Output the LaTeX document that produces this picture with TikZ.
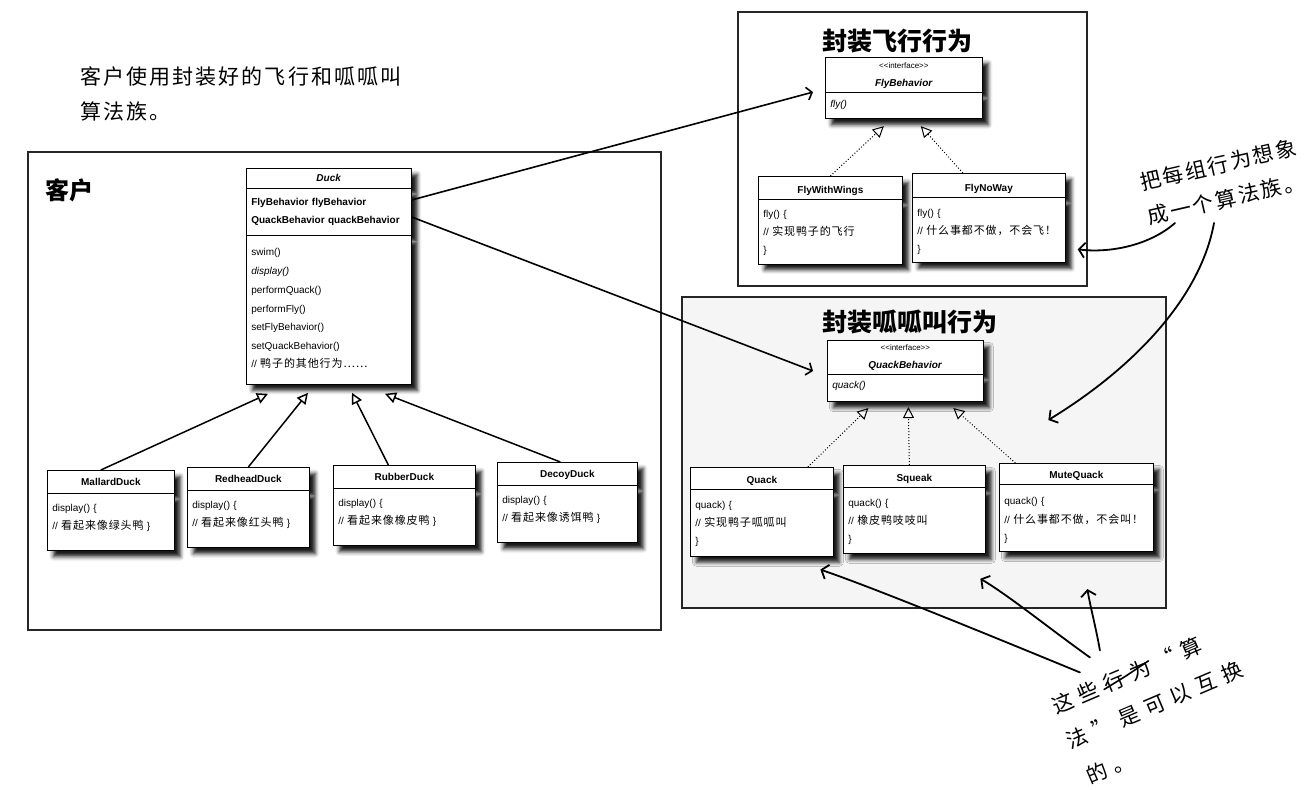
\documentclass[tikz,border=0pt]{standalone}
\usepackage{fontspec}
\setmainfont{Liberation Sans}
\newfontfamily\cjk[LetterSpace=8, Scale=1.1]{Noto Sans CJK SC}
\newfontfamily\cjkhead{Noto Sans CJK SC}
\newfontfamily\hand[LetterSpace=10]{Noto Sans CJK SC}
\usetikzlibrary{positioning, arrows.meta, shapes.multipart, shadows.blur}

\newcommand{\strutup}[1]{\rule{0pt}{#1pt}}
\newcommand{\strutdn}[1]{\rule[-#1pt]{0pt}{#1pt}}
\newcommand{\ctr}[1]{\leavevmode\hfill#1\hfill\null}
\newcommand{\iface}{<\kern0pt<interface>\kern0pt>}

\begin{document}
\begin{tikzpicture}[x=1pt,y=-1pt,
  frame/.style={draw=black!85, line width=1.3pt},
  uml/.style={rectangle split, rectangle split parts=2, draw, fill=white, line width=0.7pt,
    inner xsep=5pt, inner ysep=3pt, text width=#1, align=left, anchor=north west,
    font=\fontsize{10}{18}\selectfont,
    blur shadow={shadow xshift=6pt, shadow yshift=-6pt, shadow blur radius=4pt, shadow opacity=90}},
  headline/.style={font=\cjkhead\bfseries\fontsize{#1}{#1}\selectfont},
  note/.style={font=\hand\fontsize{21}{35}\selectfont, inner sep=0pt},
  inherit/.style={line width=1.5pt, -{Triangle[open, length=11pt, width=11pt]}},
  realize/.style={line width=1pt, dotted, -{Triangle[open, length=11pt, width=11pt]}},
  uses/.style={line width=1.6pt, -{Straight Barb[length=5pt, width=13pt]}},
  hand/.style={line width=1.8pt, line cap=round, -{Straight Barb[length=6pt, width=15pt]}}]
\useasboundingbox (0,0) rectangle (1313,789);

% frames
\draw[frame] (28,152) rectangle (661,630);
\draw[frame] (738,12) rectangle (1087,286);
\draw[frame, fill=black!4] (682,297) rectangle (1166,608);

\node[headline=24] (client) at (69,190) {客户};
\node[headline=25] (flyhead) at (897,41) {封装飞行行为};
\node[headline=25] (quackhead) at (910,322) {封装呱呱叫行为};

% client side
\node[uml=155pt, rectangle split parts=3] (duck) at (246,168)
  {\ctr{\strutup{10}\textbf{\textit{Duck}}\strutdn{3}}
   \nodepart{two}\fontsize{10}{17}\selectfont\strutup{14}\textbf{FlyBehavior flyBehavior}\\
   \textbf{QuackBehavior quackBehavior}\strutdn{9}
   \nodepart{three}\fontsize{10}{18.8}\selectfont\strutup{16.5}swim()\\\textit{display()}\\
   performQuack()\\performFly()\\setFlyBehavior()\\setQuackBehavior()\\
   // {\cjk 鸭子的其他行为……}\strutdn{13.5}};

\node[uml=117pt] (mallard) at (47,470)
  {\ctr{\strutup{12}\textbf{MallardDuck}\strutdn{4}}
   \nodepart{two}\strutup{15}display() \{\\// {\cjk 看起来像绿头鸭} \}\strutdn{18}};
\node[uml=112pt] (redhead) at (187,467)
  {\ctr{\strutup{12}\textbf{RedheadDuck}\strutdn{4}}
   \nodepart{two}\strutup{15}display() \{\\// {\cjk 看起来像红头鸭} \}\strutdn{18}};
\node[uml=132pt] (rubber) at (333,465)
  {\ctr{\strutup{12}\textbf{RubberDuck}\strutdn{4}}
   \nodepart{two}\strutup{15}display() \{\\// {\cjk 看起来像橡皮鸭} \}\strutdn{18}};
\node[uml=130pt] (decoy) at (497,462)
  {\ctr{\strutup{12}\textbf{DecoyDuck}\strutdn{4}}
   \nodepart{two}\strutup{15}display() \{\\// {\cjk 看起来像诱饵鸭} \}\strutdn{18}};

% fly behaviors
\node[uml=147pt] (flyif) at (825,57)
  {\fontsize{10}{16}\selectfont\ctr{\strutup{8}{\fontsize{8}{16}\selectfont\iface}}\\
   \ctr{\textbf{\textit{FlyBehavior}}\strutdn{2}}
   \nodepart{two}\strutup{12}\textit{fly()}\strutdn{8}};
\node[uml=134pt] (wings) at (758,176)
  {\ctr{\strutup{14}\textbf{FlyWithWings}\strutdn{2}}
   \nodepart{two}\strutup{15}fly() \{\\// {\cjk 实现鸭子的飞行}\\\}\strutdn{7}};
\node[uml=143pt] (noway) at (912,173)
  {\ctr{\strutup{15}\textbf{FlyNoWay}\strutdn{1}}
   \nodepart{two}\fontsize{10}{18.5}\selectfont\strutup{16}fly() \{\\// {\cjk 什么事都不做，不会飞！}\\\}\strutdn{6}};

% quack behaviors
\node[uml=146pt] (quackif) at (827,340)
  {\fontsize{10}{16}\selectfont\ctr{\strutup{7}{\fontsize{8}{16}\selectfont\iface}}\\
   \ctr{\textbf{\textit{QuackBehavior}}}
   \nodepart{two}\strutup{11}\textit{quack()}\strutdn{10}};
\node[uml=133pt] (quack) at (690,467)
  {\ctr{\strutup{13}\textbf{Quack}\strutdn{2}}
   \nodepart{two}\fontsize{10}{18.5}\selectfont\strutup{16}quack) \{\\// {\cjk 实现鸭子呱呱叫}\\\}\strutdn{8}};
\node[uml=132pt] (squeak) at (843,465)
  {\ctr{\strutup{13}\textbf{Squeak}\strutdn{2}}
   \nodepart{two}\fontsize{10}{18.5}\selectfont\strutup{16}quack() \{\\// {\cjk 橡皮鸭吱吱叫}\\\}\strutdn{7}};
\node[uml=144pt] (mute) at (999,463)
  {\ctr{\strutup{12}\textbf{MuteQuack}\strutdn{1}}
   \nodepart{two}\fontsize{10}{19}\selectfont\strutup{17}quack() \{\\// {\cjk 什么事都不做，不会叫！}\\\}\strutdn{7}};

% inheritance
\draw[inherit] ([xshift=-10pt]mallard.north) -- ([xshift=22pt,yshift=-9pt]duck.south west);
\draw[inherit] (redhead.north) -- ([xshift=62pt,yshift=-8pt]duck.south west);
\draw[inherit] ([xshift=-16pt]rubber.north) -- ([xshift=106pt,yshift=-8pt]duck.south west);
\draw[inherit] ([xshift=-7pt]decoy.north) -- ([xshift=139pt,yshift=-9pt]duck.south west);

\draw[realize] (wings.north) -- ([xshift=-20pt,yshift=-7pt]flyif.south);
\draw[realize] ([xshift=-26pt]noway.north) -- ([xshift=17pt,yshift=-7pt]flyif.south);
\draw[realize] ([xshift=46pt]quack.north) -- ([xshift=-37pt,yshift=-6pt]quackif.south);
\draw[realize] ([xshift=-5pt]squeak.north) -- ([xshift=3pt,yshift=-5pt]quackif.south);
\draw[realize] ([xshift=-61pt]mute.north) -- ([xshift=48pt,yshift=-6pt]quackif.south);

% has-a
\draw[uses] ([yshift=-32pt]duck.north east) -- ([xshift=-12pt,yshift=-4pt]flyif.west);
\draw[uses] ([yshift=-49pt]duck.north east) -- ([xshift=-14pt]quackif.west);

% handwritten notes
\node[note, align=left, anchor=base west] (usage) at (80,120) {客户使用封装好的飞行和呱呱叫\\算法族。};
\node[note, align=center, rotate=13] (family) at (1222,182) {把每组行为想象\\成一个算法族。};

\begin{scope}[shift={(1062,703)}, rotate=23,
  every node/.style={note, transform shape, font=\hand\fontsize{21}{37}\selectfont\addfontfeature{LetterSpace=33}}]
\node[anchor=base west] (these) at (-10,8) {这些行为“算};
\node[anchor=base west] (swap) at (-10,46) {法”是可以互换};
\node[anchor=base west] (end) at (-6,86) {的。};
\draw[line width=1.6pt, line cap=round] (44,4) -- (70,0) -- (96,-5);
\end{scope}

\draw[hand] ([shift={(-47,-3)}]these.center) .. controls +(-102,-42) and +(50,17) .. ([shift={(58.5,13)}]quack.south);
\draw[hand] ([shift={(-37,-18)}]these.center) .. controls +(-42,-30) and +(30,18) .. ([shift={(66,25)}]squeak.south);
\draw[hand] ([shift={(-27,-25)}]these.center) .. controls +(-4,-23) and +(3,18) .. ([shift={(11,37)}]mute.south);

\draw[hand] ([shift={(-47,41)}]family.center) .. controls +(-25,22) and +(33,4) .. ([shift={(12,31.5)}]noway.east);
\draw[hand] ([shift={(-8,41)}]family.center) .. controls +(-14,77) and +(82,-50) .. ([shift={(-28,-43)}]mute.north);
\end{tikzpicture}
\end{document}
